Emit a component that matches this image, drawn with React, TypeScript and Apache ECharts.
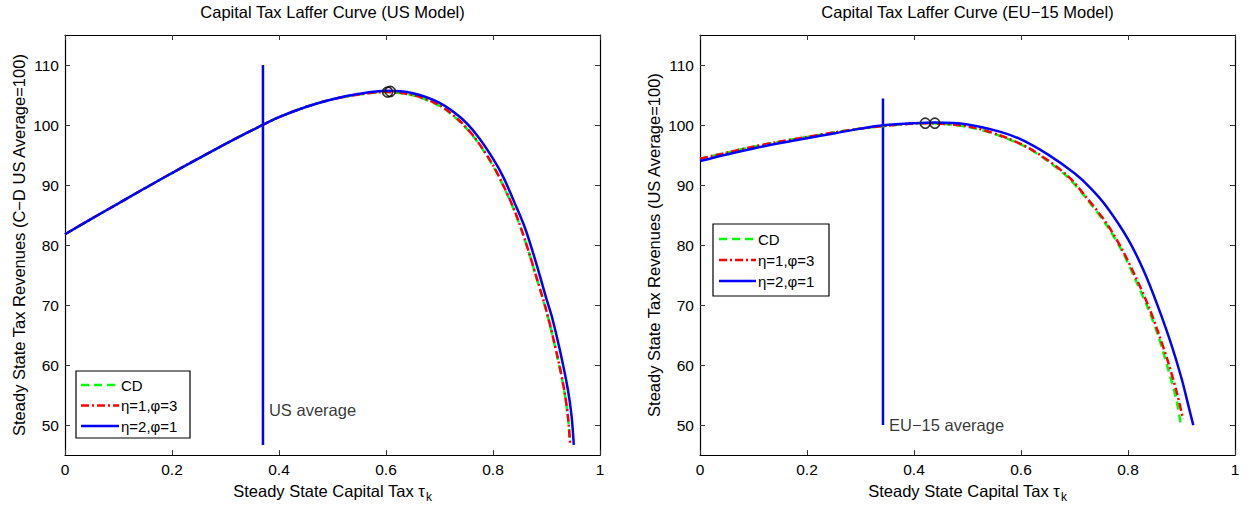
import React, { useEffect, useRef } from "react";
import * as echarts from "echarts";

// ---------- data ----------
const xTicks = [0, 0.2, 0.4, 0.6, 0.8, 1];
const yTicks = [50, 60, 70, 80, 90, 100, 110];

// US model
const usTauBlue = [0, 0.05, 0.1, 0.15, 0.2, 0.25, 0.3, 0.35, 0.4, 0.45, 0.5, 0.55, 0.6, 0.65, 0.7, 0.74, 0.77, 0.8, 0.82, 0.84, 0.86, 0.88, 0.9, 0.91, 0.925, 0.94, 0.947, 0.951];
const usRevBlue = [81.8, 84.4, 86.95, 89.5, 92.0, 94.45, 96.85, 99.15, 101.3, 103.0, 104.3, 105.2, 105.7, 105.3, 103.7, 101.2, 98.3, 94.4, 91.2, 87.1, 82.8, 77.2, 71.0, 68.1, 62.5, 55.9, 51.4, 46.7];
const usTauRed = [0, 0.05, 0.1, 0.15, 0.2, 0.25, 0.3, 0.35, 0.4, 0.45, 0.5, 0.55, 0.6, 0.65, 0.7, 0.74, 0.77, 0.8, 0.82, 0.84, 0.86, 0.88, 0.9, 0.92, 0.933, 0.94, 0.944];
const usRevRed = [81.8, 84.4, 86.95, 89.5, 92.0, 94.45, 96.85, 99.15, 101.3, 103.0, 104.3, 105.1, 105.5, 105.0, 103.3, 100.5, 97.4, 93.3, 89.8, 85.8, 80.8, 75.0, 69.0, 61.6, 55.9, 51.4, 47.0];
const usTauGreen = [0, 0.05, 0.1, 0.15, 0.2, 0.25, 0.3, 0.35, 0.4, 0.45, 0.5, 0.55, 0.6, 0.65, 0.7, 0.74, 0.77, 0.8, 0.82, 0.84, 0.86, 0.88, 0.9, 0.92, 0.933, 0.94, 0.944];
const usRevGreen = [81.8, 84.4, 86.95, 89.5, 92.0, 94.45, 96.85, 99.15, 101.3, 103.0, 104.3, 105.1, 105.5, 104.95, 103.2, 100.4, 97.3, 93.2, 89.7, 85.7, 80.7, 74.9, 68.9, 61.5, 55.8, 51.4, 47.3];
const usPeakTau = [0.603, 0.608];
const usPeakRev = [105.5, 105.6];
const usAvgTau = 0.37;
const usAvgRange = [46.7, 110];
const usAvgLabelRev = 52.5;

// EU-15 model
const euTauBlue = [0, 0.05, 0.1, 0.15, 0.2, 0.25, 0.3, 0.342, 0.4, 0.44, 0.5, 0.56, 0.6, 0.65, 0.7, 0.73, 0.76, 0.8, 0.83, 0.855, 0.88, 0.9, 0.913, 0.922];
const euRevBlue = [94.0, 95.1, 96.1, 97.0, 97.8, 98.6, 99.4, 99.95, 100.3, 100.4, 100.1, 98.9, 97.6, 95.1, 91.95, 89.5, 86.4, 81.0, 75.6, 70.0, 63.7, 57.8, 53.2, 50.0];
const euTauRed = [0, 0.05, 0.1, 0.15, 0.2, 0.25, 0.3, 0.35, 0.42, 0.5, 0.56, 0.62, 0.685, 0.72, 0.76, 0.79, 0.813, 0.838, 0.857, 0.875, 0.891, 0.903];
const euRevRed = [94.4, 95.4, 96.4, 97.25, 98.0, 98.75, 99.4, 99.9, 100.3, 99.8, 98.3, 95.9, 91.7, 88.2, 83.6, 79.1, 74.9, 69.9, 65.3, 60.5, 55.5, 51.0];
const euTauGreen = [0, 0.05, 0.1, 0.15, 0.2, 0.25, 0.3, 0.35, 0.42, 0.5, 0.56, 0.62, 0.685, 0.72, 0.76, 0.79, 0.813, 0.838, 0.857, 0.875, 0.891, 0.899];
const euRevGreen = [94.4, 95.4, 96.4, 97.25, 98.0, 98.75, 99.4, 99.9, 100.3, 99.7, 98.2, 95.8, 91.5, 88.0, 83.3, 78.8, 74.4, 69.3, 64.7, 59.3, 54.0, 49.8];
const euPeakTau = [0.421, 0.439];
const euPeakRev = [100.3, 100.3];
const euAvgTau = 0.342;
const euAvgRange = [50, 104.4];
const euAvgLabelRev = 50;

const seriesNames = ["CD", "η=1,φ=3", "η=2,φ=1"];
const titles = ["Capital Tax Laffer Curve (US Model)", "Capital Tax Laffer Curve (EU−15 Model)"];
const yNames = ["Steady State Tax Revenues (C−D US Average=100)", "Steady State Tax Revenues (US Average=100)"];
const avgLabels = ["US average", "EU−15 average"];

// ---------- style ----------
const FONT = "'Liberation Sans', Arial, Helvetica, sans-serif";
const GREEN = "#00ff00";
const RED = "#ff0000";
const BLUE = "#0000ff";
const TEXT_SIZE = 16.5;
const TICK_SIZE = 15.5;
const LEGEND_SIZE = 15;
const GRIDS = [
  { left: 65, top: 35, width: 535, height: 421 },
  { left: 700, top: 35, width: 535, height: 421 },
];

const zip = (a: number[], b: number[]) => a.map((v, i) => [v, b[i]]);

function buildOption() {
  const xAxes: any[] = [];
  const yAxes: any[] = [];
  const axisLineStyle = { color: "#000", width: 1.2 };
  GRIDS.forEach((_, g) => {
    const base = {
      type: "value",
      gridIndex: g,
      min: 0,
      max: 1,
      interval: 0.2,
      splitLine: { show: false },
      axisLine: { show: true, onZero: false, lineStyle: axisLineStyle },
      axisTick: { show: true, inside: true, length: 5, lineStyle: { color: "#333" }, customValues: xTicks },
    };
    xAxes.push({
      ...base,
      position: "bottom",
      axisLabel: { show: true, color: "#000", fontSize: TICK_SIZE, fontFamily: FONT, margin: 6, customValues: xTicks },
      name: "{a|Steady State Capital Tax τ}{b|k}",
      nameLocation: "middle",
      nameGap: 19,
      nameTextStyle: {
        color: "#000",
        fontFamily: FONT,
        rich: {
          a: { fontSize: TEXT_SIZE, fontFamily: FONT, color: "#000" },
          b: { fontSize: 12, fontFamily: FONT, color: "#000", padding: [13, 0, 0, 1] },
        },
      },
    });
    xAxes.push({ ...base, position: "top", axisLabel: { show: false } });
    const ybase = {
      type: "value",
      gridIndex: g,
      min: 45,
      max: 115,
      interval: 5,
      splitLine: { show: false },
      axisLine: { show: true, onZero: false, lineStyle: axisLineStyle },
      axisTick: { show: true, inside: true, length: 5, lineStyle: { color: "#333" }, customValues: yTicks },
    };
    yAxes.push({
      ...ybase,
      position: "left",
      axisLabel: {
        show: true,
        color: "#000",
        fontSize: TICK_SIZE,
        fontFamily: FONT,
        margin: 6,
        customValues: yTicks,
        formatter: (v: number) => (v % 10 === 0 ? String(v) : ""),
      },
      name: yNames[g],
      nameLocation: "middle",
      nameGap: 38,
      nameTextStyle: { color: "#000", fontSize: TEXT_SIZE, fontFamily: FONT },
    });
    yAxes.push({ ...ybase, position: "right", axisLabel: { show: false } });
  });

  const lineSeries = (g: number, name: string, tau: number[], rev: number[], color: string, type: any, width: number, z: number) => ({
    type: "line",
    name,
    xAxisIndex: g * 2,
    yAxisIndex: g * 2,
    data: zip(tau, rev),
    showSymbol: false,
    symbol: "none",
    smooth: 0.3,
    lineStyle: { color, width, type },
    z,
    silent: true,
  });

  const panels = [
    { green: [usTauGreen, usRevGreen], red: [usTauRed, usRevRed], blue: [usTauBlue, usRevBlue], peak: [usPeakTau, usPeakRev], avgTau: usAvgTau, avgRange: usAvgRange, labelRev: usAvgLabelRev },
    { green: [euTauGreen, euRevGreen], red: [euTauRed, euRevRed], blue: [euTauBlue, euRevBlue], peak: [euPeakTau, euPeakRev], avgTau: euAvgTau, avgRange: euAvgRange, labelRev: euAvgLabelRev },
  ];

  const series: any[] = [];
  panels.forEach((p, g) => {
    series.push({
      type: "line",
      name: "avg" + g,
      xAxisIndex: g * 2,
      yAxisIndex: g * 2,
      data: p.avgRange.map((r) => [p.avgTau, r]),
      showSymbol: false,
      symbol: "none",
      lineStyle: { color: BLUE, width: 2.5 },
      z: 2,
      silent: true,
    });
    series.push(lineSeries(g, seriesNames[0], p.green[0], p.green[1], GREEN, [8, 5], 2.5, 3));
    series.push(lineSeries(g, seriesNames[1], p.red[0], p.red[1], RED, [8, 3, 2, 3], 2.5, 4));
    series.push(lineSeries(g, seriesNames[2], p.blue[0], p.blue[1], BLUE, "solid", 2.5, 5));
    series.push({
      type: "scatter",
      name: "peak" + g,
      xAxisIndex: g * 2,
      yAxisIndex: g * 2,
      data: zip(p.peak[0], p.peak[1]),
      symbol: "circle",
      symbolSize: 10,
      itemStyle: { color: "rgba(0,0,0,0)", borderColor: "#000", borderWidth: 1.6 },
      z: 6,
      silent: true,
    });
    series.push({
      type: "scatter",
      name: "label" + g,
      xAxisIndex: g * 2,
      yAxisIndex: g * 2,
      data: [[p.avgTau, p.labelRev]],
      symbolSize: 0,
      itemStyle: { color: "rgba(0,0,0,0)" },
      label: {
        show: true,
        position: "right",
        distance: 6,
        formatter: avgLabels[g],
        color: "#000",
        fontSize: TEXT_SIZE,
        fontFamily: FONT,
      },
      z: 7,
      silent: true,
    });
  });

  const legendBoxes = [
    { x: 76, y: 371, w: 114, h: 67, rows: [385, 405.5, 426], lx1: 81, lx2: 119, tx: 121 },
    { x: 713, y: 224, w: 116, h: 72, rows: [239, 260, 281], lx1: 719, lx2: 756, tx: 758 },
  ];
  const styles = [
    { stroke: GREEN, lineDash: [8, 5] },
    { stroke: RED, lineDash: [8, 3, 2, 3] },
    { stroke: BLUE, lineDash: null as any },
  ];
  const graphic: any[] = [];
  legendBoxes.forEach((b) => {
    const children: any[] = [
      { type: "rect", shape: { x: b.x, y: b.y, width: b.w, height: b.h }, style: { fill: "#fff", stroke: "#000", lineWidth: 1.2 } },
    ];
    b.rows.forEach((ry, i) => {
      children.push({
        type: "line",
        shape: { x1: b.lx1, y1: ry, x2: b.lx2, y2: ry },
        style: { stroke: styles[i].stroke, lineWidth: 2.5, lineDash: styles[i].lineDash },
      });
      children.push({
        type: "text",
        x: b.tx,
        y: ry,
        style: { text: seriesNames[i], fill: "#000", fontSize: LEGEND_SIZE, fontFamily: FONT, verticalAlign: "middle", align: "left" },
      });
    });
    graphic.push({ type: "group", z: 100, children });
  });

  return {
    animation: false,
    backgroundColor: "#fff",
    textStyle: { fontFamily: FONT },
    title: titles.map((t, g) => ({
      text: t,
      left: GRIDS[g].left + GRIDS[g].width / 2,
      textAlign: "center",
      top: 3,
      padding: 0,
      textStyle: { fontSize: TEXT_SIZE, fontWeight: "normal", color: "#000", fontFamily: FONT },
    })),
    grid: GRIDS.map((g) => ({ ...g, containLabel: false })),
    xAxis: xAxes,
    yAxis: yAxes,
    series,
    graphic,
  };
}

export default function App() {
  const ref = useRef<HTMLDivElement>(null);
  useEffect(() => {
    if (!ref.current) return;
    const chart = echarts.init(ref.current, undefined, { renderer: "svg" });
    chart.setOption(buildOption() as any);
    return () => chart.dispose();
  }, []);
  return <div ref={ref} style={{ position: "absolute", left: 0, top: 0, width: 1248, height: 508 }} />;
}
